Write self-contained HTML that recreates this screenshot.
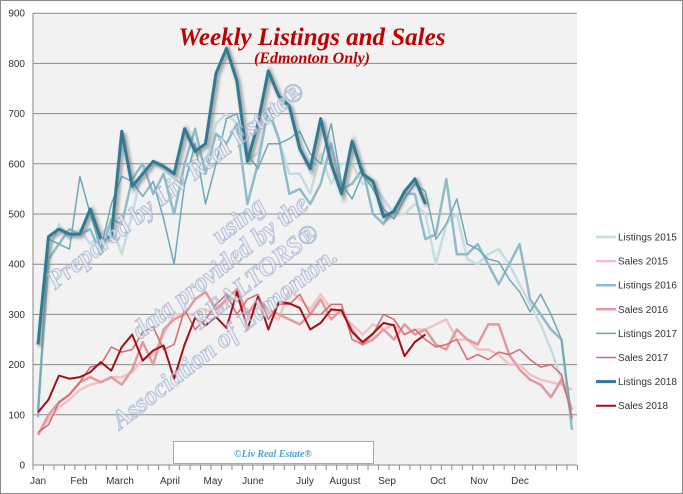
<!DOCTYPE html>
<html><head><meta charset="utf-8"><style>
html,body{margin:0;padding:0;background:#fff;}
svg{display:block;font-family:"Liberation Sans",sans-serif;}
</style></head><body>
<svg id="c" width="683" height="494" viewBox="0 0 683 494" xmlns="http://www.w3.org/2000/svg">
<defs>
<filter id="sh" x="-10%" y="-10%" width="120%" height="120%"><feGaussianBlur stdDeviation="1.5"/></filter>
</defs>
<rect x="0.5" y="0.5" width="682" height="493" fill="#fff" stroke="#888"/>
<rect x="33" y="13" width="544" height="452" fill="#f2f2f2"/>
<g id="grid"></g>
<g id="series"></g>
<g font-family="Liberation Serif,serif" font-weight="bold" font-style="italic" fill="none" stroke="#9fb0cc" stroke-width="1" opacity="0.75" font-size="26">
<text transform="translate(55,290) rotate(-38)" fill="#e8ecf4">Prepared by Liv Real Estate®</text>
<text transform="translate(220,245) rotate(-38)" fill="#e8ecf4">using</text>
<text transform="translate(140,340) rotate(-38)" fill="#e8ecf4">data provided by the</text>
<text transform="translate(200,330) rotate(-38)" fill="#e8ecf4">REALTORS®</text>
<text transform="translate(120,430) rotate(-38)" fill="#e8ecf4">Association of Edmonton.</text>
</g>
<rect x="173.5" y="441.5" width="200" height="22" fill="#fff" stroke="#aaa"/>
<text x="273" y="457" text-anchor="middle" font-family="Liberation Serif,serif" font-weight="bold" font-style="italic" font-size="10" fill="#4aa3c8">©Liv Real Estate®</text>
<text x="312" y="45" text-anchor="middle" font-family="Liberation Serif,serif" font-weight="bold" font-style="italic" font-size="25" fill="#c00000">Weekly Listings and Sales</text>
<text x="312" y="63" text-anchor="middle" font-family="Liberation Serif,serif" font-weight="bold" font-style="italic" font-size="16" fill="#c00000">(Edmonton Only)</text>
<g id="legend" font-size="10" fill="#333"></g>
</svg>
<script>
var NS="http://www.w3.org/2000/svg";
function el(p,t,a,txt){var e=document.createElementNS(NS,t);for(var k in a)e.setAttribute(k,a[k]);if(txt!==undefined)e.textContent=txt;p.appendChild(e);return e;}
function Y(v){return 465-v*0.502;}
function X(i){return 38+i*10.47;}
var g=document.getElementById('grid');
for(var v=0;v<=900;v+=100){ if(v>0) el(g,'line',{x1:33,x2:577,y1:Y(v),y2:Y(v),stroke:'#8a8a8a','stroke-width':1});
 el(g,'text',{x:25,y:Y(v)+3.5,'text-anchor':'end','font-size':10,fill:'#333'},v);}
el(g,'line',{x1:33,x2:33,y1:13,y2:465,stroke:'#888'});
el(g,'line',{x1:33,x2:577,y1:465,y2:465,stroke:'#888'});
for(var i=0;i<53;i++){var x=33+i*10.47;el(g,'line',{x1:x,x2:x,y1:465,y2:470,stroke:'#888'});}
var months=[["Jan",38],["Feb",79],["March",120],["April",170],["May",213],["June",253],["July",305],["August",345],["Sep",387],["Oct",438],["Nov",479],["Dec",520]];
months.forEach(function(m){el(g,'text',{x:m[1],y:484,'text-anchor':'middle','font-size':10,fill:'#333'},m[0]);});
var S=[
["Listings 2015","#c5dde2",2.5,[100,420,480,450,470,440,460,480,420,500,590,600,590,570,560,630,600,680,700,680,610,620,700,650,580,580,540,620,560,600,600,560,560,530,500,500,520,500,400,480,500,410,400,420,430,400,360,320,280,230,170,110]],
["Sales 2015","#f2c2c6",2.5,[60,90,115,130,150,160,165,175,175,185,210,220,260,300,300,300,310,300,330,330,300,330,300,290,350,330,310,340,310,300,280,260,280,270,280,260,270,270,280,290,250,250,230,230,220,200,200,180,170,165,160,150]],
["Listings 2016","#8fbcc8",2.5,[110,410,440,470,460,470,420,490,480,570,600,540,580,500,600,670,580,660,640,680,520,600,710,650,540,550,520,560,640,550,560,590,500,480,510,540,540,450,460,570,420,420,440,400,360,400,440,330,300,270,250,70]],
["Sales 2016","#e39a9e",2.5,[60,100,125,140,165,175,165,175,160,190,245,200,270,290,300,330,345,310,330,350,300,330,310,300,290,280,300,330,290,310,270,240,250,270,250,280,260,270,240,230,270,250,240,280,280,220,190,170,160,135,170,110]],
["Listings 2017","#6fa8b8",1.5,[95,450,440,430,575,500,430,520,575,565,535,565,490,400,560,640,520,600,690,700,620,590,640,640,650,665,620,600,680,560,530,580,550,510,490,530,560,545,450,480,530,440,430,410,405,370,345,305,340,300,250,90]],
["Sales 2017","#d86a70",1.5,[65,80,125,140,165,195,200,235,225,230,265,275,230,240,310,270,290,320,340,300,330,340,290,320,320,340,300,300,320,320,250,240,260,300,290,260,270,250,235,240,250,210,220,210,225,220,230,210,195,200,180,95]],
["Listings 2018","#2e7b96",3,[240,455,470,460,460,510,450,455,665,555,580,605,595,580,670,625,640,780,830,765,605,680,785,735,715,630,590,690,600,540,645,580,565,495,505,545,570,520]],
["Sales 2018","#a50f15",2,[105,130,178,172,175,185,205,188,235,260,208,228,238,172,240,293,278,295,273,345,270,335,270,325,322,313,270,283,310,308,265,245,262,283,278,217,245,260]]
];
var sg=document.getElementById('series'),lg=document.getElementById('legend');
S.forEach(function(s,k){
 var pts=s[3].map(function(v,i){return X(i).toFixed(1)+","+Y(v).toFixed(1);}).join(" ");
 if(s[0]=="Listings 2018") el(sg,'polyline',{points:s[3].map(function(v,i){return (X(i)+2).toFixed(1)+","+(Y(v)+2).toFixed(1);}).join(" "),fill:'none',stroke:'#777','stroke-width':4,filter:'url(#sh)',opacity:0.7});
 el(sg,'polyline',{points:pts,fill:'none',stroke:s[1],'stroke-width':s[2],'stroke-linejoin':'round'});
 var y=237+k*24.1;
 el(lg,'line',{x1:596,x2:616,y1:y,y2:y,stroke:s[1],'stroke-width':s[2]});
 el(lg,'text',{x:618,y:y+3.5},s[0]);
});
</script>
</body></html>
